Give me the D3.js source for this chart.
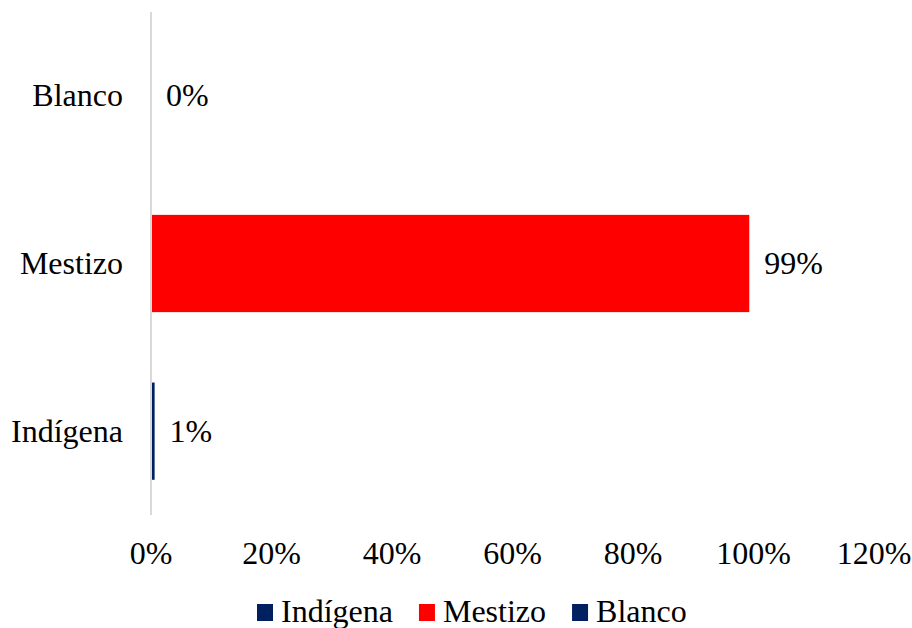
<!DOCTYPE html>
<html><head><meta charset="utf-8">
<script src="https://cdn.jsdelivr.net/npm/d3@7/dist/d3.min.js"></script>
<style>body{margin:0;background:#fff}</style>
</head><body><svg id="c" width="912" height="628"></svg>
<script>
const categories = ["Indígena", "Mestizo", "Blanco"];
const values = [0.006, 0.993, 0.0];
const colors = ["#002060", "#ff0000", "#002060"];
const xTicks = [0, 0.2, 0.4, 0.6, 0.8, 1.0, 1.2];

const FONT = "'Liberation Serif'";
const svg = d3.select("#c");
const fs = 32;
const x = d3.scaleLinear().domain([0, 1.2]).range([151, 874]);
const y = d3.scaleBand().domain(categories.slice().reverse()).range([12, 515]).paddingInner(0.42).paddingOuter(0.21);

svg.append("line").attr("x1", x(0)).attr("x2", x(0)).attr("y1", 12).attr("y2", 515)
  .attr("stroke", "#d9d9d9").attr("stroke-width", 2);

const data = categories.map((c, i) => ({c, v: values[i], col: colors[i]}));
svg.selectAll("rect.bar").data(data).enter().append("rect").attr("class", "bar")
  .attr("x", x(0) + 1).attr("y", d => y(d.c)).attr("height", y.bandwidth())
  .attr("width", d => Math.max(0, x(d.v) - x(0) - 1)).attr("fill", d => d.col);

const fmt = d3.format(".0%");
svg.selectAll("text.lbl").data(data).enter().append("text").attr("class", "lbl")
  .style("font-family", FONT)
  .attr("x", d => x(d.v) + 15).attr("y", d => y(d.c) + y.bandwidth() / 2 + 10.5)
  .attr("font-size", fs).text(d => fmt(d.v));

svg.selectAll("text.cat").data(categories).enter().append("text").attr("class", "cat")
  .style("font-family", FONT)
  .attr("x", 123).attr("y", d => y(d) + y.bandwidth() / 2 + 10.5)
  .attr("text-anchor", "end").attr("font-size", fs).text(d => d);

svg.selectAll("text.tick").data(xTicks).enter().append("text").attr("class", "tick")
  .style("font-family", FONT)
  .attr("x", d => x(d)).attr("y", 564).attr("text-anchor", "middle")
  .attr("font-size", fs).text(d => fmt(d));

// legend
const lg = svg.append("g");
let lx = 257;
data.forEach(d => {
  lg.append("rect").attr("x", lx).attr("y", 604).attr("width", 16).attr("height", 17).attr("fill", d.col);
  const t = lg.append("text").style("font-family", FONT).attr("x", lx + 24).attr("y", 622).attr("font-size", fs).text(d.c);
  lx += 24 + t.node().getComputedTextLength() + 26;
});
</script></body></html>
